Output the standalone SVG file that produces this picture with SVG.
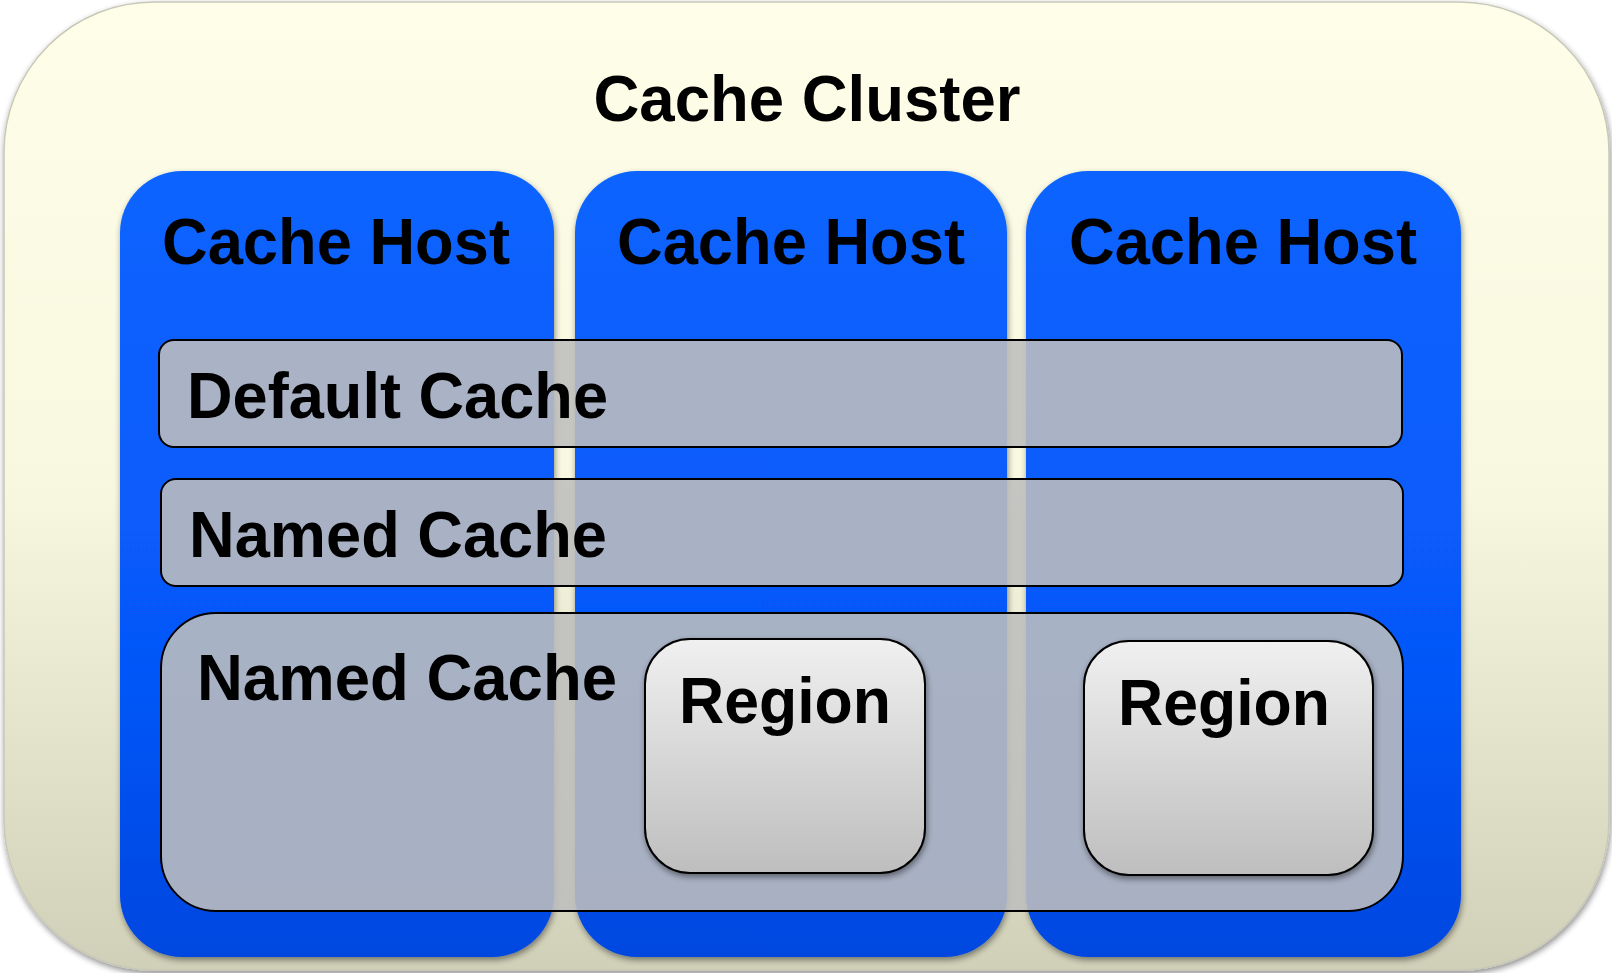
<svg xmlns="http://www.w3.org/2000/svg" width="1612" height="973" viewBox="0 0 1612 973">
<defs>
  <linearGradient id="gOuter" x1="0" y1="0" x2="0" y2="1">
    <stop offset="0" stop-color="#fefee9"/>
    <stop offset="0.5" stop-color="#f8f8e0"/>
    <stop offset="1" stop-color="#d0d0b8"/>
  </linearGradient>
  <linearGradient id="gHost" x1="0" y1="0" x2="0" y2="1">
    <stop offset="0" stop-color="#0a64ff"/>
    <stop offset="0.6" stop-color="#0658fa"/>
    <stop offset="1" stop-color="#0447e0"/>
  </linearGradient>
  <linearGradient id="gRegion" x1="0" y1="0" x2="0" y2="1">
    <stop offset="0" stop-color="#f0f0f0"/>
    <stop offset="1" stop-color="#bebebe"/>
  </linearGradient>
  <filter id="shadow" x="-5%" y="-5%" width="110%" height="110%">
    <feGaussianBlur in="SourceAlpha" stdDeviation="3"/>
    <feOffset dx="1" dy="3" result="b"/>
    <feComponentTransfer><feFuncA type="linear" slope="0.45"/></feComponentTransfer>
    <feMerge><feMergeNode/><feMergeNode in="SourceGraphic"/></feMerge>
  </filter>
  <style>
    .t { font-family: "Liberation Sans", Arial, sans-serif; font-weight: bold; font-size: 64px; fill: #000; }
    .host { fill: url(#gHost); filter: url(#shadow); }
    .cache { fill: #bebebe; fill-opacity: 0.886; stroke: #000; stroke-width: 2; }
    .region { fill: url(#gRegion); stroke: #000; stroke-width: 2; filter: url(#shadow); }
  </style>
</defs>
<rect width="1612" height="973" fill="#ffffff"/>
<g id="cluster">
  <rect x="4" y="2" width="1605" height="968" rx="150" ry="150" fill="url(#gOuter)" stroke="#c8c8b8" stroke-width="1.5" filter="url(#shadow)"/>
  <text class="t" x="807" y="121" text-anchor="middle" textLength="427" lengthAdjust="spacingAndGlyphs">Cache Cluster</text>
</g>
<g id="host1">
  <rect class="host" x="120" y="171" width="434" height="786" rx="62" ry="62"/>
  <text class="t" x="336" y="264" text-anchor="middle" textLength="348" lengthAdjust="spacingAndGlyphs">Cache Host</text>
</g>
<g id="host2">
  <rect class="host" x="575" y="171" width="432" height="786" rx="62" ry="62"/>
  <text class="t" x="791" y="264" text-anchor="middle" textLength="348" lengthAdjust="spacingAndGlyphs">Cache Host</text>
</g>
<g id="host3">
  <rect class="host" x="1026" y="171" width="435" height="786" rx="62" ry="62"/>
  <text class="t" x="1243" y="264" text-anchor="middle" textLength="348" lengthAdjust="spacingAndGlyphs">Cache Host</text>
</g>
<g id="default-cache">
  <rect class="cache" x="159" y="340" width="1243" height="107" rx="15" ry="15"/>
  <text class="t" x="187" y="418" textLength="421" lengthAdjust="spacingAndGlyphs">Default Cache</text>
</g>
<g id="named-cache-1">
  <rect class="cache" x="161" y="479" width="1242" height="107" rx="15" ry="15"/>
  <text class="t" x="189" y="557" textLength="418" lengthAdjust="spacingAndGlyphs">Named Cache</text>
</g>
<g id="named-cache-2">
  <rect class="cache" x="161" y="613" width="1242" height="298" rx="55" ry="55"/>
  <text class="t" x="197" y="700" textLength="420" lengthAdjust="spacingAndGlyphs">Named Cache</text>
</g>
<g id="region-1">
  <rect class="region" x="645" y="639" width="280" height="234" rx="45" ry="45"/>
  <text class="t" x="785" y="723" text-anchor="middle" textLength="212" lengthAdjust="spacingAndGlyphs">Region</text>
</g>
<g id="region-2">
  <rect class="region" x="1084" y="641" width="289" height="234" rx="45" ry="45"/>
  <text class="t" x="1224" y="725" text-anchor="middle" textLength="212" lengthAdjust="spacingAndGlyphs">Region</text>
</g>
<g id="connectors"></g>
</svg>
